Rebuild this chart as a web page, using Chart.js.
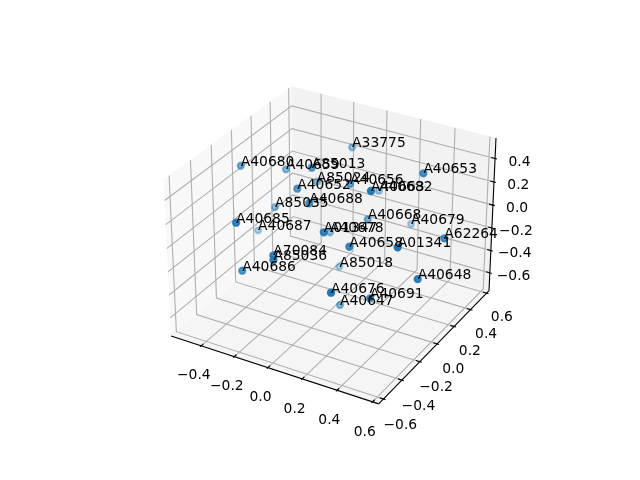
<!DOCTYPE html>
<html>
<head>
<meta charset="utf-8">
<script src="https://cdn.jsdelivr.net/npm/chart.js@4"></script>
<style>body{margin:0;background:#fff}</style>
</head>
<body>
<canvas id="c" width="640" height="480"></canvas>
<script>
// codes and coordinates of the points
const labels=['A33775','A85013','A40680','A40659','A40652','A85024','A40656','A40663','A40682','A40653','A85035','A40688','A40685','A40687','A01347','A40678','A40668','A40679','A40658','A01341','A62264','A85018','A40648','A40676','A40691','A40647','A70084','A85036','A40686'];
const xs=[-0.136,-0.166,-0.552,-0.377,-0.203,-0.252,-0.005,0.277,0.014,0.395,-0.409,-0.067,-0.296,-0.522,0.095,-0.125,0.090,0.170,0.193,0.490,0.569,-0.097,0.559,0.262,0.319,0.046,-0.094,-0.088,-0.309];
const ys=[0.495,0.108,0.032,0.204,0.020,0.314,0.230,-0.073,0.523,0.278,0.137,-0.095,-0.442,0.144,-0.234,0.230,0.252,0.604,-0.143,-0.188,0.184,0.284,-0.094,-0.462,-0.152,0.029,-0.419,-0.429,-0.374];
const zs=[0.287,0.345,0.261,0.188,0.209,0.058,0.191,0.442,-0.052,0.407,-0.112,0.216,0.193,-0.368,0.133,-0.279,-0.091,-0.339,-0.011,0.142,-0.008,-0.614,-0.163,-0.140,-0.392,-0.710,-0.013,-0.042,-0.269];
const xTicks=[-0.4,-0.2,0,0.2,0.4,0.6];
const yTicks=[-0.6,-0.4,-0.2,0,0.2,0.4,0.6];
const zTicks=[-0.6,-0.4,-0.2,0,0.2,0.4];
const xLim=[-0.56,0.61], yLim=[-0.625,0.605], zLim=[-0.735,0.545];

// same camera as a default mplot3d axes
const elev=30*Math.PI/180, azim=-60*Math.PI/180, dist=10;
const k=1.8294640721620434/Math.sqrt(41), box=[4*k,4*k,3*k];
const n=[Math.cos(elev)*Math.cos(azim),Math.cos(elev)*Math.sin(azim),Math.sin(elev)];
const E=box.map((b,i)=>b/2+dist*n[i]);
const cross=(a,b)=>[a[1]*b[2]-a[2]*b[1],a[2]*b[0]-a[0]*b[2],a[0]*b[1]-a[1]*b[0]];
const unit=a=>{const l=Math.hypot(...a);return a.map(v=>v/l)};
const dot=(a,b)=>a[0]*b[0]+a[1]*b[1]+a[2]*b[2];
const u=unit(cross([0,0,1],n)), v=cross(n,u);
const lims=[xLim,yLim,zLim];
function project(x,y,z){
  const p=[x,y,z].map((d,i)=>(d-lims[i][0])/(lims[i][1]-lims[i][0])*box[i]-E[i]);
  const zv=dot(p,n);
  return {x:dot(p,u)/-zv,y:dot(p,v)/-zv,d:-zv};
}
const pad=l=>(l[1]-l[0])/48;
const xA=xLim[0]-pad(xLim), xB=xLim[1]+pad(xLim);
const yA=yLim[0]-pad(yLim), yB=yLim[1]+pad(yLim);
const zA=zLim[0]-pad(zLim), zB=zLim[1]+pad(zLim);

function line(pts,color,width,order,fill){
  return {data:pts.map(p=>{const q=project(p[0],p[1],p[2]);return {x:q.x,y:q.y}}),showLine:true,pointRadius:0,
    borderColor:color,borderWidth:width,backgroundColor:fill||'transparent',fill:fill?'shape':false,order:order,clip:false,tension:0};
}
const datasets=[];
// panes
datasets.push(line([[xA,yA,zA],[xA,yB,zA],[xA,yB,zB],[xA,yA,zB],[xA,yA,zA]],'transparent',1,5,'rgba(242,242,242,0.5)'));
datasets.push(line([[xA,yB,zA],[xB,yB,zA],[xB,yB,zB],[xA,yB,zB],[xA,yB,zA]],'transparent',1,5,'rgba(230,230,230,0.5)'));
datasets.push(line([[xA,yA,zA],[xB,yA,zA],[xB,yB,zA],[xA,yB,zA],[xA,yA,zA]],'transparent',1,5,'rgba(236,236,236,0.5)'));
// grid and ticks
const grid='#b0b0b0', gw=1.11;
xTicks.forEach(t=>{
  datasets.push(line([[t,yA,zA],[t,yB,zA],[t,yB,zB]],grid,gw,4));
  datasets.push(line([[t,yA+0.022,zA],[t,yA-0.011,zA]],'#000',gw,2));
});
yTicks.forEach(t=>{
  datasets.push(line([[xB,t,zA],[xA,t,zA],[xA,t,zB]],grid,gw,4));
  datasets.push(line([[xB-0.022,t,zA],[xB+0.011,t,zA]],'#000',gw,2));
});
zTicks.forEach(t=>{
  datasets.push(line([[xA,yA,t],[xA,yB,t],[xB,yB,t]],grid,gw,4));
  datasets.push(line([[xB-0.022,yB,t],[xB+0.011,yB,t]],'#000',gw,2));
});
// axis lines
datasets.push(line([[xA,yA,zA],[xB,yA,zA]],'#000',gw,3));
datasets.push(line([[xB,yA,zA],[xB,yB,zA]],'#000',gw,3));
datasets.push(line([[xB,yB,zA],[xB,yB,zB]],'#000',gw,3));

// points, far ones first, faded with depth
const pts=labels.map((l,i)=>Object.assign(project(xs[i],ys[i],zs[i]),{label:l}));
const dMin=Math.min(...pts.map(p=>p.d)), dMax=Math.max(...pts.map(p=>p.d));
pts.forEach(p=>{p.a=1-(p.d-dMin)/(dMax-dMin)*0.7});
pts.sort((a,b)=>b.d-a.d);
const shades=pts.map(p=>'rgba(31,119,180,'+p.a.toFixed(3)+')');
datasets.push({data:pts,pointRadius:3.1,pointBorderWidth:2.08,order:0,clip:false,
  pointBackgroundColor:shades,pointBorderColor:shades});

const fmt=t=>(t<0?'\u2212':'')+Math.abs(t).toFixed(1);
const textPlugin={id:'texts',afterDatasetsDraw(chart){
  const {ctx,scales}=chart;
  const at=q=>[scales.x.getPixelForValue(q.x),scales.y.getPixelForValue(q.y)];
  ctx.save();
  ctx.fillStyle='#000';
  ctx.font='13.89px "DejaVu Sans"';
  ctx.textAlign='left';ctx.textBaseline='alphabetic';
  pts.forEach(p=>{const a=at(p);ctx.fillText(p.label,a[0],a[1])});
  ctx.textAlign='center';ctx.textBaseline='middle';
  xTicks.forEach(t=>{const a=at(project(t,yA-0.08,zA-0.20));ctx.fillText(fmt(t),a[0],a[1])});
  yTicks.forEach(t=>{const a=at(project(xB+0.096,t,zA-0.182));ctx.fillText(fmt(t),a[0],a[1])});
  zTicks.forEach(t=>{const a=at(project(xB+0.10,yB+0.09,t-0.05));ctx.fillText(fmt(t),a[0],a[1])});
  ctx.restore();
}};
new Chart(document.getElementById('c'),{
  type:'scatter',
  data:{datasets},
  options:{responsive:false,animation:false,events:[],
    layout:{padding:{left:143.2,right:127.2,top:57.6,bottom:52.8}},
    plugins:{legend:{display:false},tooltip:{enabled:false}},
    scales:{x:{display:false,min:-0.095,max:0.09},y:{display:false,min:-0.095,max:0.09}}},
  plugins:[textPlugin]
});
</script>
</body>
</html>
